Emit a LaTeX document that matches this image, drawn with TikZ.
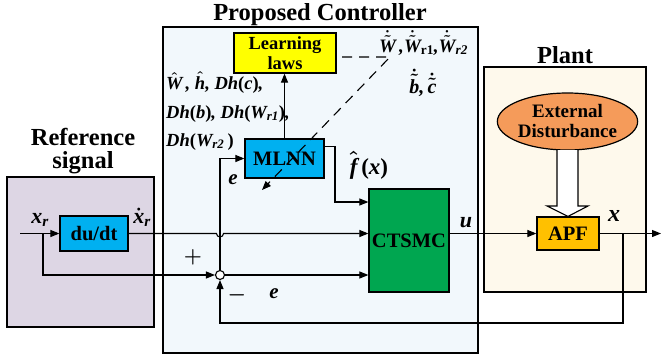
\documentclass[tikz,border=0pt]{standalone}
\usepackage{amsmath}
\usepackage{fontspec}
\setmainfont{Liberation Serif}
\usetikzlibrary{arrows.meta,shapes.geometric,calc}
\newcommand{\bi}[1]{\text{\bfseries\itshape #1}}
\newcommand{\bu}[1]{\text{\bfseries\upshape #1}}
\definecolor{pcfill}{RGB}{242,248,252}
\definecolor{reffill}{RGB}{221,214,228}
\definecolor{plantfill}{RGB}{254,249,236}
\definecolor{lrnfill}{RGB}{255,255,0}
\definecolor{nnfill}{RGB}{0,176,240}
\definecolor{ctfill}{RGB}{0,166,80}
\definecolor{apffill}{RGB}{255,192,0}
\definecolor{distfill}{RGB}{245,155,90}
\begin{document}
\begin{tikzpicture}[x=1pt,y=-1pt,
  container/.style={draw,line width=1.2pt,inner sep=0pt},
  blk/.style={draw,line width=1.2pt,inner sep=0pt,align=center,font=\bfseries\fontsize{20.5}{21}\selectfont},
  wire/.style={line width=1.1pt},
  arr/.style={wire,-{Triangle[length=9pt,width=7pt]}},
  ttl/.style={font=\bfseries\fontsize{24.5}{25}\selectfont,anchor=base,inner sep=0pt},
  lbl/.style={font=\fontsize{18.5}{20}\selectfont\boldmath\bfseries\itshape,inner sep=0pt},
  biglbl/.style={font=\fontsize{22}{24}\selectfont\boldmath\bfseries\itshape,inner sep=0pt}]
\useasboundingbox (0,0) rectangle (662,362);
% containers
\node[container,fill=pcfill,minimum width=315pt,minimum height=326pt] (pc) at (320.5,190) {};
\node[container,fill=reffill,minimum width=147pt,minimum height=150pt] (rs) at (80.5,252) {};
\node[container,fill=plantfill,minimum width=162pt,minimum height=225pt] (pl) at (565,179.5) {};
% titles
\node[ttl] (tpc) at (320,20) {Proposed Controller};
\node[ttl] (trs1) at (83,145) {Reference};
\node[ttl] (trs2) at (83,168) {signal};
\node[ttl] (tpl) at (565,63) {Plant};
% blocks
\node[blk,fill=lrnfill,minimum width=102pt,minimum height=40pt,font=\bfseries\fontsize{18.5}{19.5}\selectfont] (lrn) at (285,53) {Learning\\laws};
\node[blk,fill=nnfill,minimum width=79pt,minimum height=39pt] (nn) at (284.5,158.5) {MLNN};
\node[blk,fill=nnfill,minimum width=68pt,minimum height=35pt] (dd) at (94,233.5) {du/dt};
\node[blk,fill=ctfill,minimum width=80pt,minimum height=103pt] (ct) at (409,240.5) {CTSMC};
\node[blk,fill=apffill,minimum width=62pt,minimum height=33pt] (apf) at (568,233.5) {APF};
\node[draw,line width=1.2pt,ellipse,fill=distfill,minimum width=120pt,minimum height=57pt,inner sep=0pt,align=center,font=\bfseries\fontsize{19}{20}\selectfont] (dist) at (567.5,121.5) {External\\Disturbance};
\node[draw,line width=1.1pt,circle,fill=white,minimum size=9pt,inner sep=0pt] (sum) at (220,275) {};
% coordinates
\coordinate (xin) at (20,233.5);
\coordinate (br) at (43,233.5);
\coordinate (xout) at (661,233.5);
\coordinate (fb) at (623,233.5);
\coordinate (ds) at (342,57);
\coordinate (dc) at (390,57);
\coordinate (de) at (262,190);
% hollow arrow
\draw[line width=1.1pt,fill=white] (557,150) -- (557,206) -- (547,206) -- (apf.north) -- (588,206) -- (578,206) -- (578,150);
% wires
\draw[arr] (xin) -- (dd.west);
\draw[arr] (br) |- (sum.west);
\draw[arr] (sum.north) |- (nn.west);
\draw[arr] (nn.north) -- (nn.north |- lrn.south);
\draw[arr] ($(nn.north east)+(0,8)$) -| (335,202) -- (ct.west |- 0,202);
\draw[arr] (dd.east) -- (216.5,233.5) arc[start angle=180,end angle=0,radius=3.5] -- (ct.west |- dd.east);
\draw[arr] (sum.east) -- (ct.west |- sum.east);
\draw[arr] (ct.east |- apf.west) -- (apf.west);
\draw[arr] (apf.east) -- (xout);
\draw[arr] (fb) |- (220,323) -- (sum.south);
\draw[wire,dashed,dash pattern=on 10pt off 7pt,-{Triangle[length=9pt,width=7pt]}] (ds) -- (dc) -- (de);
% labels
\node[lbl,anchor=base west] (l1) at (166,89) {$\hat{\bi{W}}$\,, $\hat{\bi{h}}$, Dh\bu{(}c\bu{)},};
\node[lbl,anchor=base west] (l2) at (166,118) {Dh\bu{(}b\bu{)}, Dh\bu{(}$\bi{W}_{\bi{r1}}$\bu{)},};
\node[lbl,anchor=base west] (l3) at (166,146) {Dh\bu{(}$\bi{W}_{\bi{r2}}$\,\bu{)}};
\node[lbl,anchor=base west,font=\fontsize{19}{20}\selectfont\boldmath\bfseries\itshape] (l4) at (379,52) {$\dot{\tilde{\bi{W}}}$\,,$\dot{\tilde{\bi{W}}}_{\bu{r1}}$,$\dot{\tilde{\bi{W}}}_{\bi{r2}}$};
\node[lbl,anchor=base,font=\fontsize{20}{20}\selectfont\boldmath\bfseries\itshape] (l5) at (423,93) {$\dot{\tilde{\bi{b}}}$,\,$\dot{\tilde{\bi{c}}}$};
\node[biglbl,anchor=base,font=\fontsize{23}{24}\selectfont\boldmath\bfseries\itshape] (lf) at (369,174) {$\hat{\bi{f}}$\,\bu{(}x\bu{)}};
\node[biglbl,anchor=base,font=\fontsize{21}{24}\selectfont\boldmath\bfseries\itshape] (le1) at (233,184) {e};
\node[biglbl,anchor=base] (lxr) at (40,223) {$\bi{x}_{\bi{r}}$};
\node[biglbl,anchor=base] (lxd) at (142,223) {$\dot{\bi{x}}_{\bi{r}}$};
\node[biglbl,font=\fontsize{21}{24}\selectfont\boldmath] (lp) at (193,257) {$+$};
\node[biglbl,font=\fontsize{21}{24}\selectfont\boldmath] (lm) at (237,295) {$-$};
\node[biglbl,anchor=base,font=\fontsize{21}{24}\selectfont\boldmath\bfseries\itshape] (le2) at (274,298) {e};
\node[biglbl,anchor=base] (lu) at (466,227) {u};
\node[biglbl,anchor=base,font=\fontsize{24}{24}\selectfont\boldmath\bfseries\itshape] (lx) at (614,221) {x};
\end{tikzpicture}
\end{document}
